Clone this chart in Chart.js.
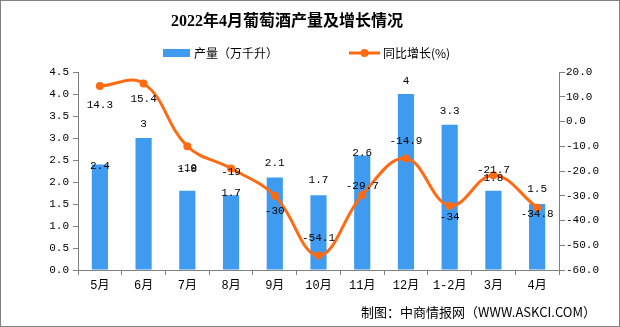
<!DOCTYPE html>
<html><head><meta charset="utf-8">
<script src="https://cdn.jsdelivr.net/npm/chart.js@4"></script>
<style>html,body{margin:0;padding:0;background:#fff}#wrap{width:620px;height:327px;position:relative}</style>
</head><body><div id="wrap"><canvas id="c"></canvas></div>
<script>
const titleText = '2022年4月葡萄酒产量及增长情况';
const sourceText = '制图：中商情报网（WWW.ASKCI.COM）';
const categories = ['5月','6月','7月','8月','9月','10月','11月','12月','1-2月','3月','4月'];
const outputValues = [2.4, 3, 1.8, 1.7, 2.1, 1.7, 2.6, 4, 3.3, 1.8, 1.5];
const growthValues = [14.3, 15.4, -10, -19, -30, -54.1, -29.7, -14.9, -34, -21.7, -34.8];
const outputLabel = '产量（万千升）';
const growthLabel = '同比增长(%)';
const leftTickValues = [0, 0.5, 1, 1.5, 2, 2.5, 3, 3.5, 4, 4.5];
const rightTickValues = [-60, -50, -40, -30, -20, -10, 0, 10, 20];

// label placement (style only): vertical offsets from the mark, px
const barLabelDy = [2, -14, -22, -2, -15, -15, -3, -13, -14, -13, -15];
const lineLabelDy = [19, 16, 22, 4, 15, -17, -9, -17, 11, -5, 6];

const BAR_COLOR = '#3E9BF0';
const LINE_COLOR = '#FF6A13';
const AXIS_COLOR = '#808080';
const NUM_FONT = '"Liberation Mono", "Noto Sans CJK SC", monospace';
const CJK_FONT = '"Noto Sans CJK SC", sans-serif';

const decor = {
  id: 'decor',
  afterDatasetsDraw(chart) {
    const ctx = chart.ctx;
    ctx.save();
    ctx.font = '11px ' + NUM_FONT;
    ctx.fillStyle = '#000';
    ctx.textAlign = 'center';
    ctx.textBaseline = 'middle';
    chart.getDatasetMeta(0).data.forEach((el, i) => {
      ctx.fillText(String(outputValues[i]), el.x, el.y + barLabelDy[i]);
    });
    chart.getDatasetMeta(1).data.forEach((el, i) => {
      ctx.fillText(String(growthValues[i]), el.x, el.y + lineLabelDy[i]);
    });
    ctx.restore();
  },
  afterDraw(chart) {
    const ctx = chart.ctx;
    ctx.save();
    // title
    ctx.fillStyle = '#000';
    ctx.textBaseline = 'middle';
    ctx.textAlign = 'center';
    ctx.font = 'bold 16px "Liberation Serif", "Noto Sans CJK SC", serif';
    ctx.fillText(titleText, 287, 22);
    // legend
    ctx.textAlign = 'left';
    ctx.font = '12px ' + CJK_FONT;
    ctx.fillStyle = BAR_COLOR;
    ctx.fillRect(163, 49, 27, 8);
    ctx.fillStyle = '#000';
    ctx.fillText(outputLabel, 194, 53);
    ctx.strokeStyle = LINE_COLOR;
    ctx.lineWidth = 3;
    ctx.beginPath(); ctx.moveTo(349, 53); ctx.lineTo(380, 53); ctx.stroke();
    ctx.fillStyle = LINE_COLOR;
    ctx.beginPath(); ctx.arc(364.5, 53, 4, 0, Math.PI * 2); ctx.fill();
    ctx.fillStyle = '#000';
    ctx.fillText(growthLabel, 383, 53);
    // source
    ctx.textAlign = 'right';
    ctx.font = '13px ' + CJK_FONT;
    ctx.fillText(sourceText, 596, 312);
    // frame
    ctx.strokeStyle = AXIS_COLOR;
    ctx.lineWidth = 2;
    ctx.strokeRect(0, 0, 620, 327);
    ctx.restore();
  }
};

new Chart(document.getElementById('c'), {
  data: {
    labels: categories,
    datasets: [
      {
        type: 'bar', label: outputLabel, data: outputValues,
        backgroundColor: BAR_COLOR, barPercentage: 0.37, categoryPercentage: 1,
        yAxisID: 'y', order: 2
      },
      {
        type: 'line', label: growthLabel, data: growthValues,
        borderColor: LINE_COLOR, backgroundColor: LINE_COLOR, borderWidth: 3,
        pointRadius: 4, pointBackgroundColor: LINE_COLOR, pointBorderWidth: 0,
        tension: 0.4, yAxisID: 'y1', order: 1
      }
    ]
  },
  options: {
    responsive: true, maintainAspectRatio: false, animation: false,
    layout: { padding: { top: 72, left: 0, right: 0, bottom: 0 } },
    plugins: { legend: { display: false }, title: { display: false }, tooltip: { enabled: false } },
    scales: {
      x: {
        offset: true,
        grid: { offset: true, drawOnChartArea: false, drawTicks: true, tickLength: 5, color: AXIS_COLOR },
        border: { color: AXIS_COLOR, width: 1 },
        ticks: { color: '#000', font: { size: 12, family: NUM_FONT }, padding: 4, maxRotation: 0, autoSkip: false },
        afterFit(s) { s.height = 57; }
      },
      y: {
        position: 'left', min: 0, max: 4.5,
        afterBuildTicks(s) { s.ticks = leftTickValues.map(v => ({ value: v })); },
        grid: { drawOnChartArea: false, tickLength: 5, color: AXIS_COLOR },
        border: { color: AXIS_COLOR, width: 1 },
        ticks: { color: '#000', font: { size: 11, family: NUM_FONT }, padding: 4, callback: v => Number(v).toFixed(1) },
        afterFit(s) { s.width = 78; }
      },
      y1: {
        position: 'right', min: -60, max: 20,
        afterBuildTicks(s) { s.ticks = rightTickValues.map(v => ({ value: v })); },
        grid: { drawOnChartArea: false, tickLength: 6, color: AXIS_COLOR },
        border: { color: AXIS_COLOR, width: 1 },
        ticks: { color: '#000', font: { size: 11, family: NUM_FONT }, padding: 1, callback: v => Number(v).toFixed(1) },
        afterFit(s) { s.width = 61; }
      }
    }
  },
  plugins: [decor]
});
</script></body></html>
